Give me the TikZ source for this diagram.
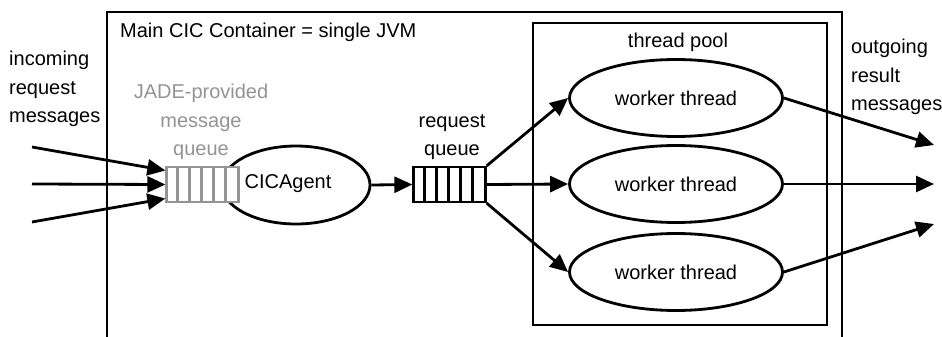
\documentclass[tikz,border=0pt]{standalone}
\usepackage{fontspec}
\setmainfont{Liberation Sans}
\usetikzlibrary{arrows.meta,shapes.geometric}
\begin{document}
\begin{tikzpicture}[x=1pt,y=-1pt,
  every node/.style={font=\fontsize{20}{28.5}\selectfont, inner sep=0pt},
  frame/.style={draw=black, line width=2.8pt},
  worker/.style={ellipse, draw=black, line width=2.8pt, minimum width=213pt, minimum height=77pt, fill=white},
  agentell/.style={ellipse, draw=black, line width=2.8pt, minimum width=148pt, minimum height=78pt},
  queuebox/.style={rectangle, line width=2.3pt, minimum width=72pt, minimum height=35pt, fill=white},
  arr/.style={line width=2.8pt, -{Triangle[length=18pt,width=16pt]}},
  jadegray/.style={text=black!42}
]
\useasboundingbox (0,0) rectangle (942,337);
\begin{scope}
\clip (0,0) rectangle (942,337);
\draw[frame] (107,345) -- (107,12) -- (842,12) -- (842,345);
\end{scope}
\draw[frame] (533,23) rectangle (827,325);

\node[anchor=west] (title) at (120,32) {Main CIC Container = single JVM};
\node (pooltitle) at (678,42) {thread pool};
\node[anchor=west, align=left] (incoming) at (9,89) {incoming\\request\\messages};
\node[anchor=west, align=left] (outgoing) at (851,77) {outgoing\\result\\messages};
\node[jadegray, align=center] (jadetext) at (201,122) {JADE-provided\\message\\queue};
\node[align=center] (rqtext) at (452,137) {request\\queue};

\node[agentell] (agent) at (296,185) {};
\node (agentlabel) at (288,184) {CICAgent};

\node[queuebox, draw=black!42] (jq) at (202.5,184.5) {};
\foreach \k in {1,...,5}
  \draw[black!42, line width=2.3pt] ([xshift=\k*12pt]jq.north west) -- ([xshift=\k*12pt]jq.south west);

\node[queuebox, draw=black] (rq) at (449.5,184.5) {};
\foreach \k in {1,...,5}
  \draw[black, line width=2.3pt] ([xshift=\k*12pt]rq.north west) -- ([xshift=\k*12pt]rq.south west);

\node[worker] (w1) at (676,98) {worker thread};
\node[worker] (w2) at (676,184) {worker thread};
\node[worker] (w3) at (676,272) {worker thread};

\coordinate (in1) at (32,147);
\coordinate (in2) at (32,184);
\coordinate (in3) at (32,222);
\coordinate (o1) at (934,145);
\coordinate (o2) at (934,184);
\coordinate (o3) at (934,224);

\draw[arr] (in1) -- ([yshift=14pt]jq.west);
\draw[arr] (in2) -- (jq.west);
\draw[arr] (in3) -- ([yshift=-14pt]jq.west);

\draw[arr] (agent.east) -- (rq.west);
\draw[arr] (rq.north east) -- (w1.west);
\draw[arr] (rq.east) -- (w2.west);
\draw[arr] (rq.south east) -- (w3.west);

\draw[arr] (w1.east) -- (o1);
\draw[arr] (w2.east) -- (o2);
\draw[arr] (w3.east) -- (o3);
\end{tikzpicture}
\end{document}
